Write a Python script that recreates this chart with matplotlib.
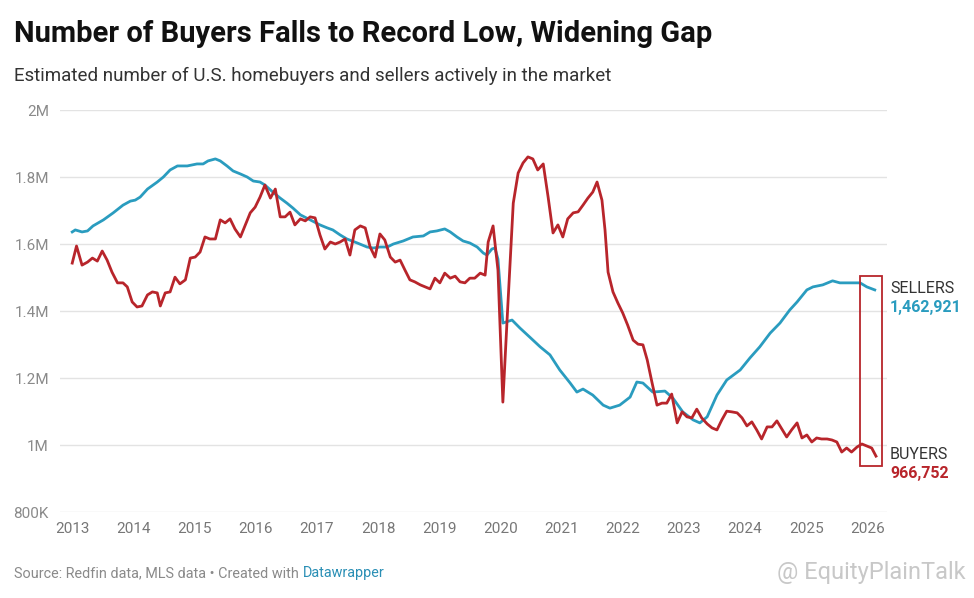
import matplotlib
matplotlib.use("Agg")
import matplotlib.pyplot as plt
from matplotlib.patches import Rectangle

plt.rcParams['font.family'] = ['Roboto', 'DejaVu Sans']

# ---- data (decimal year, thousands) ----
sellers_t = [2013.00, 2013.05, 2013.16, 2013.25, 2013.34, 2013.51, 2013.67, 2013.83, 2013.95, 2014.03,
             2014.11, 2014.23, 2014.39, 2014.49, 2014.60, 2014.72, 2014.88, 2015.04, 2015.14, 2015.22,
             2015.34, 2015.42, 2015.53, 2015.63, 2015.75, 2015.86, 2015.96, 2016.07, 2016.15, 2016.28,
             2016.40, 2016.51, 2016.61, 2016.73, 2016.89, 2017.05, 2017.17, 2017.26, 2017.38, 2017.49,
             2017.66, 2017.82, 2017.92, 2018.03, 2018.15, 2018.25, 2018.41, 2018.57, 2018.74, 2018.85,
             2018.96, 2019.09, 2019.18, 2019.29, 2019.39, 2019.50, 2019.62, 2019.72, 2019.78, 2019.86,
             2019.91, 2019.96, 2020.04, 2020.19, 2020.32, 2020.48, 2020.65, 2020.81, 2020.97, 2021.14,
             2021.25, 2021.35, 2021.51, 2021.68, 2021.79, 2021.95, 2022.12, 2022.23, 2022.33, 2022.49,
             2022.69, 2022.82, 2022.98, 2023.15, 2023.26, 2023.38, 2023.54, 2023.70, 2023.92, 2024.08,
             2024.24, 2024.41, 2024.57, 2024.73, 2024.85, 2025.01, 2025.11, 2025.27, 2025.43, 2025.55,
             2025.71, 2025.88, 2025.99, 2026.12]
sellers_v = [1636, 1642, 1636, 1639, 1654, 1672, 1693, 1716, 1728, 1731,
             1740, 1764, 1785, 1800, 1821, 1833, 1833, 1839, 1839, 1848,
             1854, 1848, 1833, 1818, 1809, 1800, 1788, 1785, 1776, 1755,
             1737, 1722, 1707, 1687, 1672, 1657, 1648, 1642, 1627, 1615,
             1603, 1591, 1588, 1591, 1591, 1600, 1609, 1621, 1624, 1636,
             1639, 1645, 1636, 1621, 1609, 1603, 1591, 1573, 1567, 1585,
             1588, 1555, 1364, 1373, 1349, 1322, 1293, 1269, 1224, 1185,
             1158, 1167, 1149, 1119, 1110, 1119, 1143, 1188, 1185, 1158,
             1161, 1140, 1099, 1075, 1066, 1084, 1149, 1194, 1224, 1260,
             1293, 1334, 1364, 1403, 1427, 1463, 1472, 1478, 1490, 1484,
             1484, 1484, 1472, 1462.921]

buyers_t = [2013.00, 2013.07, 2013.16, 2013.25, 2013.33, 2013.41, 2013.49, 2013.57, 2013.65, 2013.74,
            2013.83, 2013.90, 2013.98, 2014.06, 2014.14, 2014.23, 2014.31, 2014.39, 2014.44, 2014.52,
            2014.60, 2014.68, 2014.76, 2014.85, 2014.93, 2015.01, 2015.09, 2015.17, 2015.25, 2015.34,
            2015.42, 2015.50, 2015.58, 2015.66, 2015.75, 2015.83, 2015.91, 2015.99, 2016.07, 2016.15,
            2016.24, 2016.32, 2016.40, 2016.48, 2016.56, 2016.64, 2016.73, 2016.81, 2016.89, 2016.97,
            2017.05, 2017.13, 2017.22, 2017.30, 2017.38, 2017.46, 2017.54, 2017.62, 2017.71, 2017.79,
            2017.87, 2017.95, 2018.03, 2018.11, 2018.20, 2018.28, 2018.36, 2018.44, 2018.52, 2018.60,
            2018.69, 2018.77, 2018.85, 2018.93, 2019.01, 2019.09, 2019.18, 2019.26, 2019.34, 2019.42,
            2019.50, 2019.58, 2019.67, 2019.75, 2019.80, 2019.88, 2019.96, 2020.04, 2020.12, 2020.21,
            2020.29, 2020.37, 2020.45, 2020.53, 2020.61, 2020.70, 2020.78, 2020.86, 2020.94, 2021.02,
            2021.10, 2021.19, 2021.27, 2021.35, 2021.43, 2021.51, 2021.58, 2021.66, 2021.71, 2021.76,
            2021.84, 2021.92, 2022.00, 2022.08, 2022.17, 2022.25, 2022.33, 2022.40, 2022.48, 2022.56,
            2022.64, 2022.72, 2022.80, 2022.89, 2022.97, 2023.05, 2023.13, 2023.21, 2023.29, 2023.38,
            2023.46, 2023.54, 2023.62, 2023.70, 2023.78, 2023.87, 2023.95, 2024.03, 2024.11, 2024.19,
            2024.27, 2024.36, 2024.44, 2024.52, 2024.60, 2024.68, 2024.76, 2024.85, 2024.93, 2025.01,
            2025.09, 2025.17, 2025.25, 2025.34, 2025.42, 2025.50, 2025.58, 2025.66, 2025.74, 2025.83,
            2025.91, 2025.99, 2026.07, 2026.14]
buyers_v = [1543, 1594, 1537, 1546, 1558, 1549, 1579, 1552, 1516, 1484,
            1484, 1472, 1427, 1412, 1415, 1448, 1457, 1454, 1415, 1454,
            1457, 1501, 1481, 1493, 1558, 1561, 1576, 1621, 1615, 1615,
            1672, 1663, 1675, 1645, 1621, 1657, 1693, 1710, 1740, 1776,
            1737, 1764, 1681, 1681, 1695, 1657, 1675, 1669, 1681, 1678,
            1627, 1585, 1606, 1600, 1606, 1615, 1567, 1642, 1654, 1648,
            1591, 1561, 1630, 1612, 1561, 1546, 1552, 1522, 1493, 1487,
            1478, 1472, 1466, 1498, 1484, 1513, 1498, 1504, 1487, 1484,
            1498, 1498, 1513, 1507, 1606, 1654, 1522, 1128, 1412, 1722,
            1812, 1842, 1860, 1854, 1821, 1839, 1740, 1633, 1657, 1621,
            1675, 1693, 1696, 1716, 1737, 1755, 1785, 1731, 1642, 1516,
            1457, 1424, 1394, 1358, 1313, 1301, 1299, 1254, 1185, 1119,
            1125, 1125, 1152, 1066, 1099, 1084, 1081, 1107, 1081, 1063,
            1051, 1045, 1075, 1101, 1099, 1096, 1081, 1057, 1069, 1045,
            1018, 1054, 1054, 1072, 1048, 1024, 1045, 1066, 1021, 1030,
            1009, 1021, 1018, 1018, 1015, 1009, 979, 991, 979, 994,
            1003, 997, 991, 966.752]

year_ticks = list(range(2013, 2027))
y_ticks = [800, 1000, 1200, 1400, 1600, 1800, 2000]
y_labels = ['800K', '1M', '1.2M', '1.4M', '1.6M', '1.8M', '2M']

BLUE = '#2a9cbf'
RED = '#b8252b'
GRID = '#e3e3e3'
TICK = '#8a8a8a'

fig = plt.figure(figsize=(9.74, 5.98), dpi=100)
ax = fig.add_axes([60/974, 1-512/598, (887-60)/974, (512-110)/598])

ax.set_xlim(2012.80, 2026.32)
ax.set_ylim(800, 2000)

for y in y_ticks:
    ax.axhline(y, color=GRID, lw=1.0, zorder=0)

ax.plot(sellers_t, sellers_v, color=BLUE, lw=2.0, solid_joinstyle='round', zorder=3, clip_on=False)
ax.plot(buyers_t, buyers_v, color=RED, lw=2.0, solid_joinstyle='round', zorder=4, clip_on=False)

# highlight box
ax.add_patch(Rectangle((2025.88, 937), 0.36, 1504 - 937, fill=False,
                       edgecolor=RED, lw=1.3, zorder=5, clip_on=False))

for s in ax.spines.values():
    s.set_visible(False)
ax.set_yticks(y_ticks)
ax.set_yticklabels(y_labels)
ax.set_xticks(year_ticks)
ax.set_xticklabels([str(y) for y in year_ticks])
ax.tick_params(axis='both', length=0, labelsize=11, colors=TICK)
ax.tick_params(axis='y', pad=8)
ax.tick_params(axis='x', pad=7, labelcolor='#777777')

# end labels
lx = 2026.37
ax.text(lx, 1466, 'SELLERS', color='#333333', fontsize=11.5, va='center', ha='left', clip_on=False)
ax.text(lx, 1410, '1,462,921', color=BLUE, fontsize=11.5, fontweight='bold', va='center', ha='left', clip_on=False)
ax.text(lx, 973, 'BUYERS', color='#333333', fontsize=11.5, va='center', ha='left', clip_on=False)
ax.text(lx, 915, '966,752', color=RED, fontsize=11.5, fontweight='bold', va='center', ha='left', clip_on=False)

# titles
fig.text(14/974, 1-34/598, 'Number of Buyers Falls to Record Low, Widening Gap',
         fontsize=21, fontweight='bold', color='#111111', va='center', ha='left')
fig.text(14/974, 1-76/598, 'Estimated number of U.S. homebuyers and sellers actively in the market',
         fontsize=13.5, color='#333333', va='center', ha='left')

# footer
t1 = fig.text(14/974, 1-573/598, 'Source: Redfin data, MLS data \u2022 Created with ',
              fontsize=10.4, color='#8a8a8a', va='center', ha='left')
fig.canvas.draw()
bb = t1.get_window_extent()
fig.text(bb.x1/974, 1-573/598, 'Datawrapper', fontsize=10.4, color='#2a8fb5', va='center', ha='left')

fig.text(966/974, 1-573/598, '@ EquityPlainTalk', fontsize=17, color='#c8c8c8',
         va='center', ha='right')

fig.savefig('out.png', dpi=100, facecolor='white')
